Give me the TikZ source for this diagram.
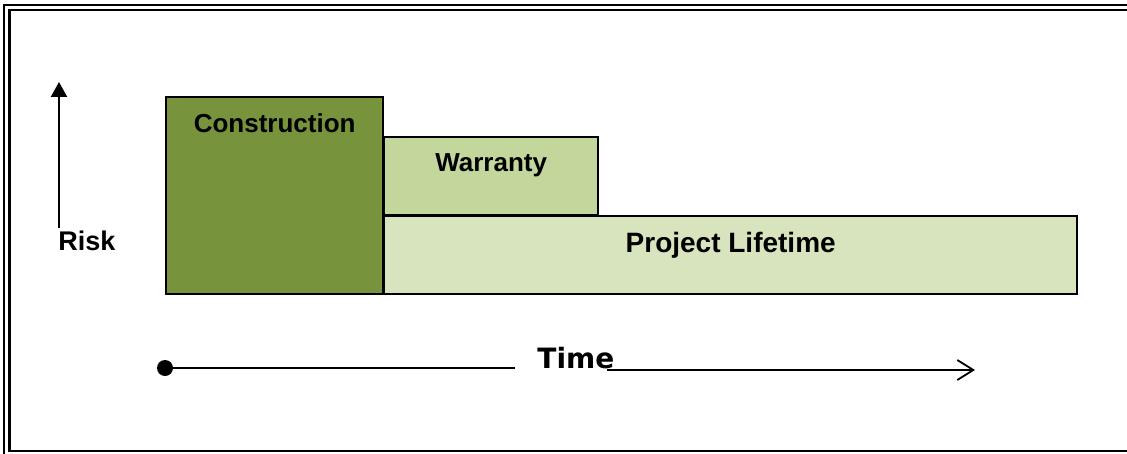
\documentclass[tikz,border=0pt]{standalone}
\usepackage{fontspec}
\setmainfont{Liberation Sans}
\newfontfamily\timefont{DejaVu Sans}
\usetikzlibrary{arrows.meta,positioning}

\definecolor{constrgreen}{HTML}{77933C}
\definecolor{warrantygreen}{HTML}{C3D69B}
\definecolor{lifegreen}{HTML}{D7E4BD}

\tikzset{
  phasebox/.style={draw=black, line width=1.2pt, anchor=north west, inner sep=0pt},
  phaselabel/.style={anchor=north, inner sep=0pt, font=\fontsize{13}{15}\selectfont\bfseries},
}

\begin{document}
\begin{tikzpicture}[x=0.5pt, y=-0.5pt]
% Set the page size and the double frame
\useasboundingbox (0,0) rectangle (1127,454);
\draw[line width=1.1pt] (4,5) rectangle (1145,470);
\draw[line width=1.3pt] (9.5,10) rectangle (1137,451);

% Draw the three phases, back to front
\node[phasebox, fill=lifegreen, minimum width=346.5pt, minimum height=39pt] (lifetime) at (383,215) {};
\node[phasebox, fill=warrantygreen, minimum width=107pt, minimum height=39pt] (warranty) at (383,136) {};
\node[phasebox, fill=constrgreen, minimum width=108.5pt, minimum height=98.5pt] (construction) at (165,96) {};
\node[phaselabel, below=8.5pt of construction.north] (constrlabel) {Construction};
\node[phaselabel, below=8.5pt of warranty.north] (warrantylabel) {Warranty};
\node[phaselabel, below=8.5pt of lifetime.north, font=\fontsize{14}{16}\selectfont\bfseries] (lifelabel) {Project Lifetime};

% Risk axis
\coordinate (riskbottom) at (59,228);
\coordinate (risktop) at (59,82);
\draw[line width=1.1pt, -{Triangle[length=7.5pt, width=8pt]}] (riskbottom) -- (risktop);
\node[anchor=base west, inner sep=0pt, font=\fontsize{13.5}{16}\selectfont\bfseries] (risk) at (58,250) {Risk};

% Time axis
\node[circle, fill=black, inner sep=0pt, minimum size=8pt] (start) at (165,368) {};
\coordinate (timegap) at (515,368);
\node[anchor=base west, inner sep=0pt, font=\timefont\fontsize{14}{16}\selectfont\bfseries] (time) at (537,368) {Time};
\coordinate (timefrom) at (607,370);
\coordinate (timeto) at (975,370);
\draw[line width=1pt] (start) -- (timegap);
\draw[line width=1pt, -{Straight Barb[length=8pt, width=10pt, line width=0.9pt]}] (timefrom) -- (timeto);
\end{tikzpicture}
\end{document}
